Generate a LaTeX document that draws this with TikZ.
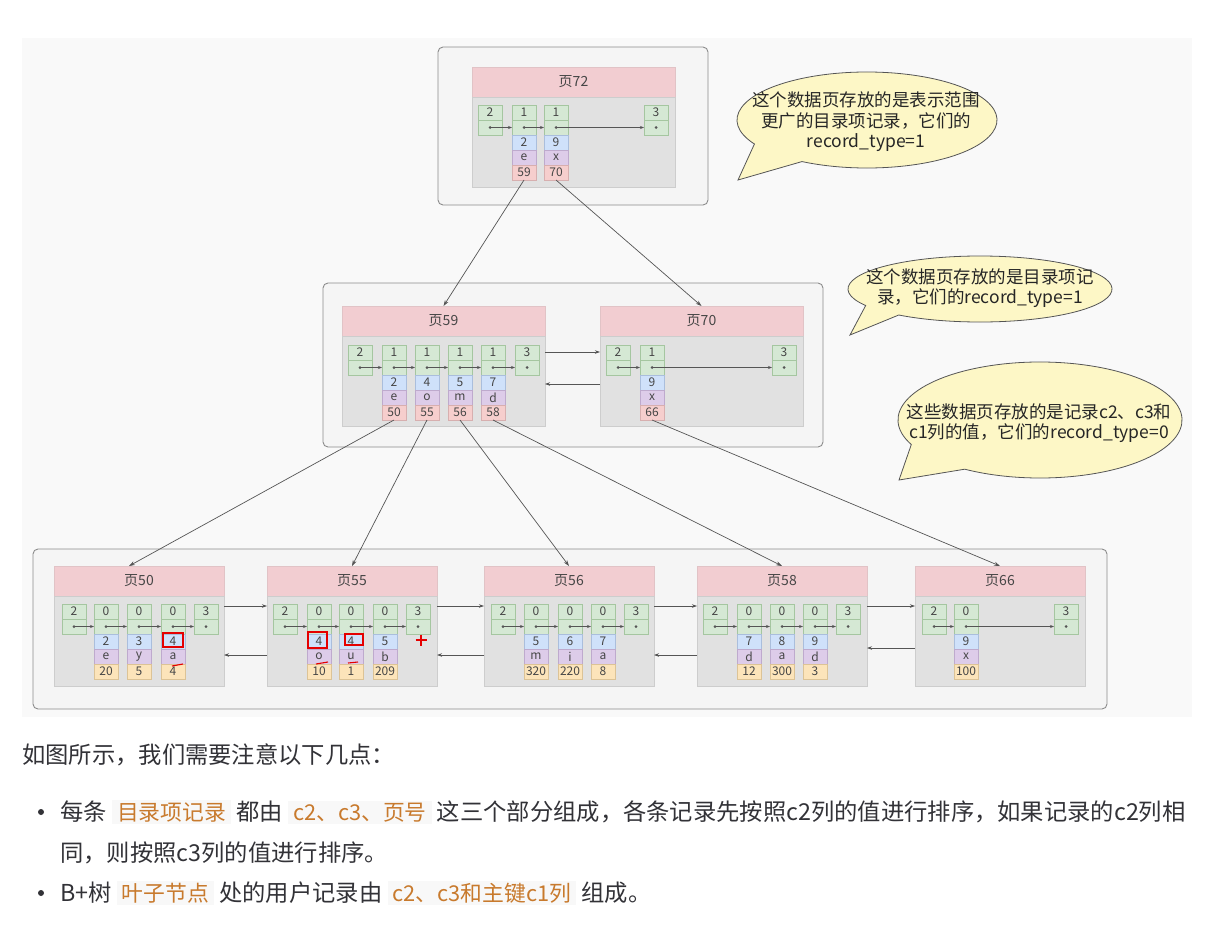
\documentclass[tikz,border=0pt]{standalone}
\usepackage{fontspec}
\setmainfont{Noto Sans CJK SC}
\usetikzlibrary{arrows.meta}
\definecolor{diagbg}{RGB}{249,249,249}
\definecolor{contf}{RGB}{245,245,245}
\definecolor{contd}{RGB}{140,140,140}
\definecolor{hdrf}{RGB}{242,205,209}
\definecolor{hdrd}{RGB}{225,195,198}
\definecolor{bodyf}{RGB}{225,225,225}
\definecolor{bodyd}{RGB}{205,205,205}
\definecolor{gfill}{RGB}{213,232,212}
\definecolor{gdraw}{RGB}{165,198,160}
\definecolor{bfill}{RGB}{207,225,250}
\definecolor{bdraw}{RGB}{170,190,220}
\definecolor{vfill}{RGB}{221,204,233}
\definecolor{vdraw}{RGB}{190,170,205}
\definecolor{rfill}{RGB}{246,206,205}
\definecolor{rdraw}{RGB}{215,175,175}
\definecolor{ofill}{RGB}{252,228,186}
\definecolor{odraw}{RGB}{220,195,150}
\definecolor{txt}{RGB}{70,70,70}
\definecolor{edge}{RGB}{85,85,85}
\definecolor{bubf}{RGB}{253,247,198}
\definecolor{bodytxt}{RGB}{50,50,55}
\definecolor{codefg}{RGB}{200,122,45}
\definecolor{codebg}{RGB}{248,248,248}
\newcommand\pagebx[5]{%
  \node[hdr, minimum width=#4, anchor=north west] (#1h) at (#2,#3) {#5};
  \node[pbody, minimum width=#4, anchor=north west] (#1) at (#2,#3+30) {};
}
\newcommand\gcell[4]{%
  \node[gcs, anchor=north west] (#1) at (#2,#3) {#4};
  \node[gcs, anchor=north] (#1p) at (#1.south) {};
  \fill[edge] (#1p.center) circle (1.5);
}
\newcommand\drows[5]{%
  \node[bcs, anchor=north] (#1a) at (#1p.south) {#2};
  \node[vcs, anchor=north] (#1b) at (#1a.south) {#3};
  \node[#5, anchor=north] (#1c) at (#1b.south) {#4};
}
\newcommand\code[1]{{\setlength\fboxsep{2pt}\colorbox{codebg}{\hspace{3pt}\textcolor{codefg}{\fontsize{21.8}{25}\selectfont #1}\hspace{3pt}}}}
\begin{document}
\begin{tikzpicture}[x=1pt,y=-1pt,
  container/.style={draw=contd, fill=contf, rounded corners=5pt, line width=0.9pt, inner sep=0, outer sep=0},
  hdr/.style={fill=hdrf, draw=hdrd, minimum height=30pt, inner sep=0, outer sep=0, font=\fontsize{14}{16}\selectfont, text=txt},
  pbody/.style={fill=bodyf, draw=bodyd, minimum height=90pt, inner sep=0, outer sep=0},
  cellbase/.style={minimum width=24pt, minimum height=15pt, inner sep=0, outer sep=0, font=\fontsize{12}{13}\selectfont, text=txt, line width=0.5pt},
  gcs/.style={cellbase, fill=gfill, draw=gdraw},
  bcs/.style={cellbase, fill=bfill, draw=bdraw},
  vcs/.style={cellbase, fill=vfill, draw=vdraw},
  rcs/.style={cellbase, fill=rfill, draw=rdraw},
  ocs/.style={cellbase, fill=ofill, draw=odraw},
  ptr/.style={draw=edge, line width=0.6pt, -{Stealth[length=4pt,width=3pt]}},
  link/.style={draw=edge, line width=0.7pt, -{Stealth[length=5pt,width=3.5pt]}},
  tree/.style={draw=edge, line width=0.7pt, -{Stealth[length=6pt,width=4pt]}},
  bubble/.style={draw=edge, fill=bubf, line width=0.8pt},
  btext/.style={align=center, font=\fontsize{17.5}{20.5}\selectfont, text=black!85, inner sep=0},
  redm/.style={draw=red!90!black, line width=1.3pt},
  bullet/.style={circle, fill=bodytxt, minimum size=6pt, inner sep=0},
  para/.style={anchor=base west, inner sep=0, font=\fontsize{23.3}{27}\selectfont, text=bodytxt}
]
\useasboundingbox (0,0) rectangle (1209,924);
\fill[white] (0,0) rectangle (1209,924);
\fill[diagbg] (22,38) rectangle (1192,717);

% containers
\node[container, minimum width=270, minimum height=158, anchor=north west] (topbox) at (438,47) {};
\node[container, minimum width=500, minimum height=164, anchor=north west] (midbox) at (323,283) {};
\node[container, minimum width=1074, minimum height=160, anchor=north west] (botbox) at (33,549) {};

% page 72
\pagebx{p72}{472}{67}{203}{页72}
\gcell{p72c0}{478}{105}{2}
\gcell{p72c1}{512}{105}{1}\drows{p72c1}{2}{e}{59}{rcs}
\gcell{p72c2}{544}{105}{1}\drows{p72c2}{9}{x}{70}{rcs}
\gcell{p72c3}{644}{105}{3}
\draw[ptr] (p72c0p.center) -- (p72c1p.west);
\draw[ptr] (p72c1p.center) -- (p72c2p.west);
\draw[ptr] (p72c2p.center) -- (p72c3p.west);

% page 59
\pagebx{p59}{342}{306}{203}{页59}
\gcell{p59c0}{348}{345}{2}
\gcell{p59c1}{382}{345}{1}\drows{p59c1}{2}{e}{50}{rcs}
\gcell{p59c2}{415}{345}{1}\drows{p59c2}{4}{o}{55}{rcs}
\gcell{p59c3}{448}{345}{1}\drows{p59c3}{5}{m}{56}{rcs}
\gcell{p59c4}{481}{345}{1}\drows{p59c4}{7}{d}{58}{rcs}
\gcell{p59c5}{515}{345}{3}
\draw[ptr] (p59c0p.center) -- (p59c1p.west);
\draw[ptr] (p59c1p.center) -- (p59c2p.west);
\draw[ptr] (p59c2p.center) -- (p59c3p.west);
\draw[ptr] (p59c3p.center) -- (p59c4p.west);
\draw[ptr] (p59c4p.center) -- (p59c5p.west);

% page 70
\pagebx{p70}{600}{306}{203}{页70}
\gcell{p70c0}{606}{345}{2}
\gcell{p70c1}{640}{345}{1}\drows{p70c1}{9}{x}{66}{rcs}
\gcell{p70c2}{772}{345}{3}
\draw[ptr] (p70c0p.center) -- (p70c1p.west);
\draw[ptr] (p70c1p.center) -- (p70c2p.west);

\draw[link] ([yshift=-16pt]p59.north east) -- ([yshift=-16pt]p70.north west);
\draw[link] ([yshift=-48pt]p70.north west) -- ([yshift=-48pt]p59.north east);

% page 50
\pagebx{p50}{54}{566}{170}{页50}
\gcell{p50c0}{62}{604}{2}
\gcell{p50c1}{94}{604}{0}\drows{p50c1}{2}{e}{20}{ocs}
\gcell{p50c2}{127}{604}{0}\drows{p50c2}{3}{y}{5}{ocs}
\gcell{p50c3}{161}{604}{0}\drows{p50c3}{4}{a}{4}{ocs}
\gcell{p50c4}{194}{604}{3}
\draw[ptr] (p50c0p.center) -- (p50c1p.west);
\draw[ptr] (p50c1p.center) -- (p50c2p.west);
\draw[ptr] (p50c2p.center) -- (p50c3p.west);
\draw[ptr] (p50c3p.center) -- (p50c4p.west);

% page 55
\pagebx{p55}{267}{566}{170}{页55}
\gcell{p55c0}{273}{604}{2}
\gcell{p55c1}{307}{604}{0}\drows{p55c1}{4}{o}{10}{ocs}
\gcell{p55c2}{339}{604}{0}\drows{p55c2}{4}{u}{1}{ocs}
\gcell{p55c3}{373}{604}{0}\drows{p55c3}{5}{b}{209}{ocs}
\gcell{p55c4}{406}{604}{3}
\draw[ptr] (p55c0p.center) -- (p55c1p.west);
\draw[ptr] (p55c1p.center) -- (p55c2p.west);
\draw[ptr] (p55c2p.center) -- (p55c3p.west);
\draw[ptr] (p55c3p.center) -- (p55c4p.west);

% page 56
\pagebx{p56}{484}{566}{170}{页56}
\gcell{p56c0}{491}{604}{2}
\gcell{p56c1}{524}{604}{0}\drows{p56c1}{5}{m}{320}{ocs}
\gcell{p56c2}{558}{604}{0}\drows{p56c2}{6}{i}{220}{ocs}
\gcell{p56c3}{591}{604}{0}\drows{p56c3}{7}{a}{8}{ocs}
\gcell{p56c4}{624}{604}{3}
\draw[ptr] (p56c0p.center) -- (p56c1p.west);
\draw[ptr] (p56c1p.center) -- (p56c2p.west);
\draw[ptr] (p56c2p.center) -- (p56c3p.west);
\draw[ptr] (p56c3p.center) -- (p56c4p.west);

% page 58
\pagebx{p58}{697}{566}{170}{页58}
\gcell{p58c0}{703}{604}{2}
\gcell{p58c1}{737}{604}{0}\drows{p58c1}{7}{d}{12}{ocs}
\gcell{p58c2}{770}{604}{0}\drows{p58c2}{8}{a}{300}{ocs}
\gcell{p58c3}{803}{604}{0}\drows{p58c3}{9}{d}{3}{ocs}
\gcell{p58c4}{836}{604}{3}
\draw[ptr] (p58c0p.center) -- (p58c1p.west);
\draw[ptr] (p58c1p.center) -- (p58c2p.west);
\draw[ptr] (p58c2p.center) -- (p58c3p.west);
\draw[ptr] (p58c3p.center) -- (p58c4p.west);

% page 66
\pagebx{p66}{915}{566}{170}{页66}
\gcell{p66c0}{922}{604}{2}
\gcell{p66c1}{954}{604}{0}\drows{p66c1}{9}{x}{100}{ocs}
\gcell{p66c2}{1054}{604}{3}
\draw[ptr] (p66c0p.center) -- (p66c1p.west);
\draw[ptr] (p66c1p.center) -- (p66c2p.west);

% leaf links
\draw[link] ([yshift=-10pt]p50.north east) -- ([yshift=-10pt]p55.north west);
\draw[link] ([yshift=-59pt]p55.north west) -- ([yshift=-59pt]p50.north east);
\draw[link] ([yshift=-10pt]p55.north east) -- ([yshift=-10pt]p56.north west);
\draw[link] ([yshift=-59pt]p56.north west) -- ([yshift=-59pt]p55.north east);
\draw[link] ([yshift=-10pt]p56.north east) -- ([yshift=-10pt]p58.north west);
\draw[link] ([yshift=-59pt]p58.north west) -- ([yshift=-59pt]p56.north east);
\draw[link] ([yshift=-10pt]p58.north east) -- ([yshift=-10pt]p66.north west);
\draw[link] ([yshift=-52pt]p66.north west) -- ([yshift=-52pt]p58.north east);

% tree edges
\draw[tree] (p72c1c.south) -- (p59h.north);
\draw[tree] (p72c2c.south) -- (p70h.north);
\draw[tree] (p59c1c.south) -- ([xshift=-10pt]p50h.north);
\draw[tree] (p59c2c.south) -- (p55h.north);
\draw[tree] (p59c3c.south) -- (p56h.north);
\draw[tree] (p59c4c.south) -- (p58h.north);
\draw[tree] (p70c1c.south) -- (p66h.north);

% red annotations
\draw[redm] ([xshift=2pt,yshift=1pt]p50c3a.north west) rectangle ([xshift=-2pt,yshift=2pt]p50c3a.south east);
\draw[redm] ([xshift=1pt,yshift=2pt]p55c1a.north west) rectangle ([xshift=-4pt,yshift=1pt]p55c1a.south east);
\draw[redm] ([xshift=6pt,yshift=0pt]p55c2a.north west) rectangle ([xshift=0pt,yshift=4pt]p55c2a.south east);
\draw[redm, line width=1.1pt] ([xshift=-1pt,yshift=-2pt]p50c3b.south) -- ([xshift=10pt,yshift=0pt]p50c3b.south);
\draw[redm, line width=1.1pt] ([xshift=-3pt,yshift=0pt]p55c1b.south) -- ([xshift=9pt,yshift=2pt]p55c1b.south);
\draw[redm, line width=1.1pt] ([xshift=-3pt,yshift=1pt]p55c2b.south) -- ([xshift=7pt,yshift=2pt]p55c2b.south);
\draw[redm, line width=1.6pt] (415.5,640) -- (426.5,640) (421,634.5) -- (421,645.5);

% bubbles
\filldraw[bubble] (867,120) ++(150:130 and 48) arc[start angle=150, end angle=480, x radius=130, y radius=48] -- (738,180) -- cycle;
\node[btext] (note1) at (866,122) {这个数据页存放的是表示范围\\更广的目录项记录，它们的\\record\_type=1};
\filldraw[bubble] (980,289) ++(150:132 and 33) arc[start angle=150, end angle=488, x radius=132, y radius=33] -- (850,335) -- cycle;
\node[btext] (note2) at (980,288) {这个数据页存放的是目录项记\\录，它们的record\_type=1};
\filldraw[bubble] (1040,420) ++(155:142 and 58) arc[start angle=155, end angle=482, x radius=142, y radius=58] -- (899,480) -- cycle;
\node[btext] (note3) at (1039,423) {这些数据页存放的是记录c2、c3和\\c1列的值，它们的record\_type=0};

% text below
\node[para] (intro) at (22,763) {如图所示，我们需要注意以下几点：};
\node[bullet] (bul1) at (41,812) {};
\node[para] (line1) at (60,820) {每条 \code{目录项记录} 都由 \code{c2、c3、页号} 这三个部分组成，各条记录先按照c2列的值进行排序，如果记录的c2列相};
\node[para] (line2) at (60,861) {同，则按照c3列的值进行排序。};
\node[bullet] (bul2) at (41,893) {};
\node[para] (line3) at (60,901) {B+树 \code{叶子节点} 处的用户记录由 \code{c2、c3和主键c1列} 组成。};
\end{tikzpicture}
\end{document}
